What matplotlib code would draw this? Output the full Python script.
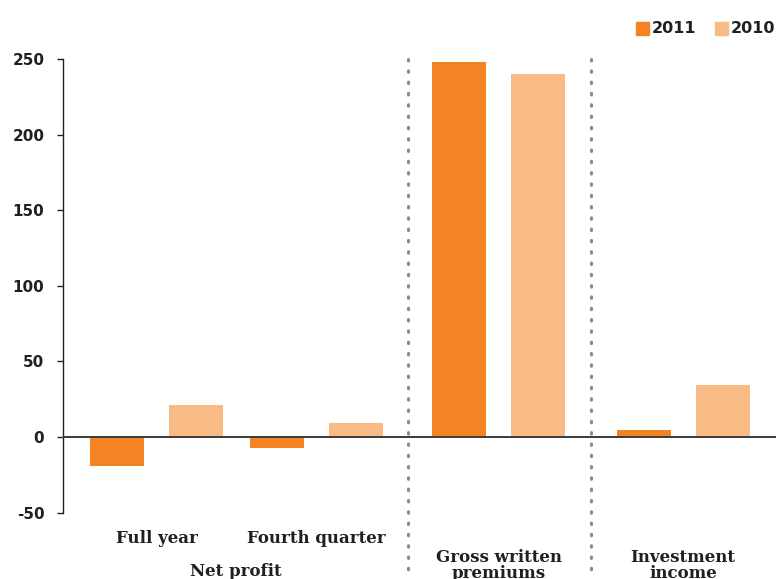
import matplotlib
matplotlib.use("Agg")
import matplotlib.pyplot as plt
import numpy as np

categories = ["Full year", "Fourth quarter", "Gross written\npremiums", "Investment\nincome"]
series_names = ["2011", "2010"]
values_2011 = [-19, -7.5, 248, 4.6]
values_2010 = [21, 9.5, 240, 34.5]
yticks = [-50, 0, 50, 100, 150, 200, 250]

c2011 = "#F38424"
c2010 = "#F9BB85"
txt = "#231F20"

fig = plt.figure(figsize=(7.76, 5.79), dpi=100)
W, H = 776, 579
ax = fig.add_axes([63 / W, (H - 512.6) / H, (W - 63) / W, (512.6 - 59) / H])

# group centers in pixel-like units relative to axis left
group_centers = np.array([156.5, 316, 498.5, 683]) - 63
offset = 39.5
bw = 54
ax.bar(group_centers - offset, values_2011, width=bw, color=c2011, zorder=2)
ax.bar(group_centers + offset, values_2010, width=bw, color=c2010, zorder=2)
ax.set_xlim(0, W - 63)
ax.set_ylim(-50, 250)
ax.axhline(0, color="#3a3a3a", lw=1.4, zorder=3)

for xs in [408 - 63, 591 - 63]:
    ax.plot([xs, xs], [250, -50 - 66.4 / 1.512], color="#8a8a80", lw=2.2,
            linestyle=(0, (0.5, 3.2)), dash_capstyle="round", clip_on=False, zorder=1)

for s in ["top", "right", "bottom"]:
    ax.spines[s].set_visible(False)
ax.spines["left"].set_color(txt)
ax.spines["left"].set_linewidth(1.0)
ax.set_xticks([])
ax.set_yticks(yticks)
ax.set_yticklabels([str(v) for v in yticks], fontsize=11, fontweight="bold",
                   color=txt, family="DejaVu Sans")
ax.tick_params(axis="y", length=4, width=1.0, color=txt, pad=9.5)

lab_font = dict(family="DejaVu Serif", fontweight="heavy", fontsize=12, color=txt)
# category labels
ax.text(group_centers[0], -66.8, categories[0], ha="center", va="center", **lab_font)
ax.text(group_centers[1], -66.8, categories[1], ha="center", va="center", **lab_font)
ax.text((group_centers[0] + group_centers[1]) / 2, -89, "Net profit",
        ha="center", va="center", clip_on=False, **lab_font)
ax.text(group_centers[2], -85, categories[2], ha="center", va="center",
        linespacing=0.9, **lab_font)
ax.text(group_centers[3], -85, categories[3], ha="center", va="center",
        linespacing=0.9, **lab_font)

# legend
fig.patches.append(plt.Rectangle((636 / W, 1 - 35 / H), 13 / W, 13 / H,
                                 transform=fig.transFigure, color=c2011))
fig.text(652 / W, 1 - 28.5 / H, "2011", ha="left", va="center", fontsize=11.5,
         fontweight="bold", color=txt)
fig.patches.append(plt.Rectangle((715 / W, 1 - 35 / H), 13 / W, 13 / H,
                                 transform=fig.transFigure, color=c2010))
fig.text(731 / W, 1 - 28.5 / H, "2010", ha="left", va="center", fontsize=11.5,
         fontweight="bold", color=txt)

fig.savefig("out.png", dpi=100)
